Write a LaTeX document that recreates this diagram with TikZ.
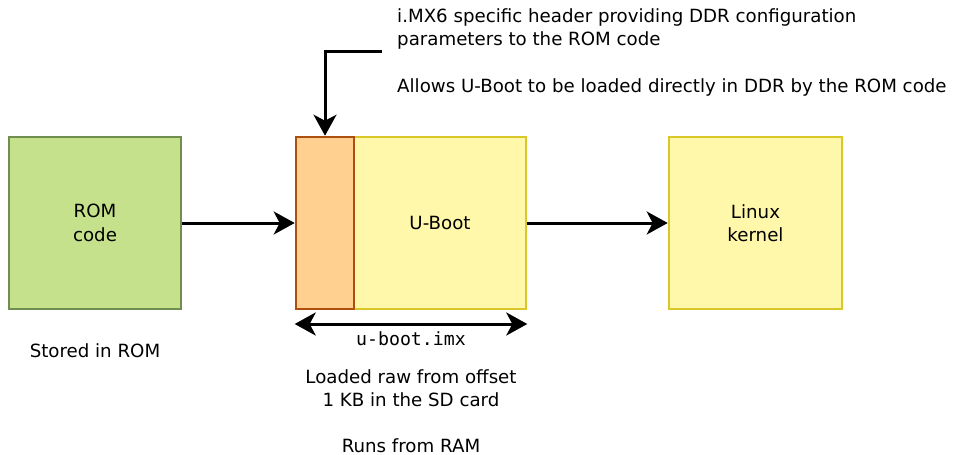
\documentclass[tikz,border=0pt]{standalone}
\usepackage{fontspec}
\setmainfont{DejaVu Sans}
\setmonofont{DejaVu Sans Mono}
\usetikzlibrary{arrows.meta}
\definecolor{romfill}{HTML}{C6E18B}
\definecolor{romdraw}{HTML}{6F8E50}
\definecolor{hdrfill}{HTML}{FFD08F}
\definecolor{hdrdraw}{HTML}{AE4F0E}
\definecolor{ubfill}{HTML}{FFF7AA}
\definecolor{ubdraw}{HTML}{D9C82A}
\tikzset{tip/.tip={Stealth[length=21pt,width=23pt,inset=6pt]}}
\begin{document}
\begin{tikzpicture}[x=1pt,y=-1pt,
  every node/.style={font=\fontsize{18.2}{23.5}\selectfont, text=black},
  blk/.style={draw, line width=2.6pt, inner sep=0pt, align=center},
  arr/.style={line width=3pt, -tip},
  darr/.style={line width=3pt, tip-tip},
  lbl/.style={align=center, inner sep=0pt}]
\useasboundingbox (0,0) rectangle (953,455);
\node[blk, fill=romfill, draw=romdraw, minimum width=172pt, minimum height=172pt] (rom) at (95,223) {ROM\\code};
\node[blk, fill=hdrfill, draw=hdrdraw, minimum width=58pt, minimum height=172pt] (hdr) at (325,223) {};
\node[blk, fill=ubfill, draw=ubdraw, minimum width=172pt, minimum height=172pt, anchor=west] (ub) at ([xshift=-2.6pt]hdr.east) {U-Boot};
\draw[hdrdraw, line width=2.6pt] ([shift={(1.3pt,-1.3pt)}]hdr.north west) rectangle ([shift={(-1.3pt,1.3pt)}]hdr.south east);
\node[blk, fill=ubfill, draw=ubdraw, minimum width=173pt, minimum height=172pt] (linux) at (755.5,223) {Linux\\kernel};
\draw[arr] (rom.east) -- (hdr.west);
\draw[arr] (ub.east) -- (linux.west);
\coordinate (hs) at (382,51);
\draw[arr] (hs) -| (hdr.north);
\node[lbl, align=left, anchor=north west] (htext) at (397,8) {i.MX6 specific header providing DDR configuration\\parameters to the ROM code\\[23pt]Allows U-Boot to be loaded directly in DDR by the ROM code};
\coordinate (dl) at (hdr.south west |- 0,324);
\coordinate (dr) at (ub.south east |- 0,324);
\draw[darr] (dl) -- (dr);
\node[lbl, font=\ttfamily\fontsize{18.2}{23.5}\selectfont] (imx) at (411,339) {u-boot.imx};
\node[lbl] (stored) at (95,351) {Stored in ROM};
\node[lbl, anchor=north] (loaded) at (411,369) {Loaded raw from offset\\1 KB in the SD card\\[22pt]Runs from RAM};
\end{tikzpicture}
\end{document}
